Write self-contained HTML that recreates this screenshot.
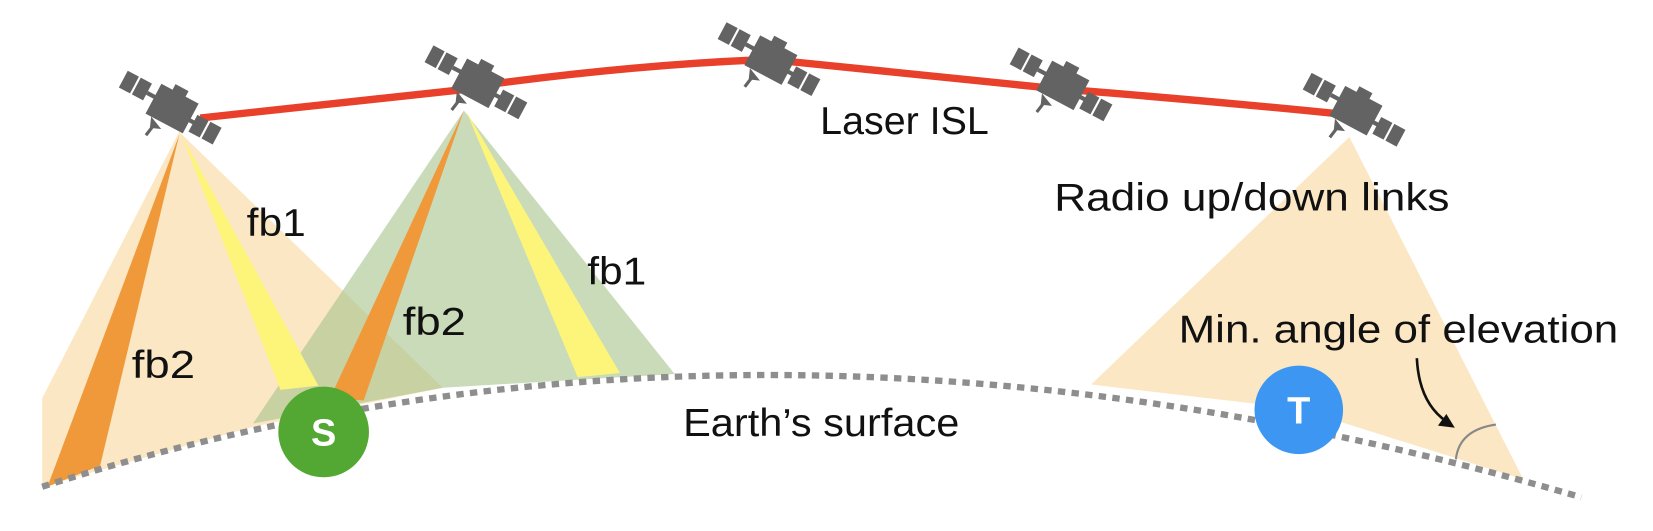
<!DOCTYPE html>
<html><head><meta charset="utf-8"><style>
html,body{margin:0;padding:0;background:#fff;}
svg{display:block;}
text{font-family:"Liberation Sans",sans-serif;fill:#111;}
</style></head><body>
<svg width="1653" height="531" viewBox="0 0 1568 504" preserveAspectRatio="none">
<defs>
<g id="sat">
<rect x="-22" y="-16" width="40" height="32" fill="#636363"/>
<rect x="-10" y="-22" width="14" height="8" fill="#636363"/>
<rect x="-56" y="-12" width="12" height="18" fill="#636363"/>
<rect x="-42" y="-12" width="12" height="18" fill="#636363"/>
<rect x="22" y="-6" width="12" height="18" fill="#636363"/>
<rect x="36" y="-6" width="12" height="18" fill="#636363"/>
<rect x="-30" y="-4" width="10" height="4" fill="#636363"/>
<rect x="17" y="0" width="8" height="4" fill="#636363"/>
<path d="M-16 16 L-2 22 L-12 26 Z" fill="#636363"/>
<path d="M-10 22 L-12 34" stroke="#636363" stroke-width="3"/>
</g>
</defs>
<polygon points="170,125 40,378 40,462 240,405 420,368" fill="#fbe7c3"/>
<polygon points="1280,130 1035,365 1232,388 1445,455" fill="#fbe7c3"/>
<polygon points="440,105 240,402 420,368 640,355" fill="#a7c38c" opacity="0.6"/>
<polygon points="170,128 45,462 95,442" fill="#f0993a"/>
<polygon points="172,128 266,370 302,366" fill="#fdf57a"/>
<polygon points="440,105 313,378 345,380" fill="#f0993a"/>
<polygon points="442,105 548,358 588,354" fill="#fdf57a"/>
<path d="M40,462 Q720,245 1500,472" fill="none" stroke="#8e8e8e" stroke-width="6" stroke-dasharray="7,6"/>
<path d="M190,112 Q320,98 440,85 M465,80 Q600,62 715,57 M745,58 Q880,72 1000,84 M1025,86 Q1150,96 1270,108" fill="none" stroke="#e8402a" stroke-width="7"/>
<use href="#sat" transform="translate(165,104) rotate(28)"/>
<use href="#sat" transform="translate(455,80) rotate(28)"/>
<use href="#sat" transform="translate(733,58) rotate(28)"/>
<use href="#sat" transform="translate(1010,82) rotate(28)"/>
<use href="#sat" transform="translate(1288,106) rotate(28)"/>
<circle cx="307" cy="410" r="43" fill="#52a832"/>
<text x="307" y="423" text-anchor="middle" font-size="36" font-weight="bold" style="fill:#fff">S</text>
<circle cx="1232" cy="389" r="42" fill="#3d97f2"/>
<text x="1232" y="402" text-anchor="middle" font-size="36" font-weight="bold" style="fill:#fff">T</text>
<path d="M1344,340 Q1346,382 1372,400" fill="none" stroke="#111" stroke-width="2.5"/>
<polygon points="1380,406 1364,404 1372,393" fill="#111"/>
<path d="M1381,436 Q1384,408 1419,403" fill="none" stroke="#888" stroke-width="2"/>
<text x="778" y="127" font-size="37" textLength="160" lengthAdjust="spacingAndGlyphs">Laser ISL</text>
<text x="1000" y="200" font-size="37" textLength="375" lengthAdjust="spacingAndGlyphs">Radio up/down links</text>
<text x="234" y="224" font-size="37" textLength="56" lengthAdjust="spacingAndGlyphs">fb1</text>
<text x="125" y="359" font-size="37" textLength="60" lengthAdjust="spacingAndGlyphs">fb2</text>
<text x="382" y="318" font-size="37" textLength="60" lengthAdjust="spacingAndGlyphs">fb2</text>
<text x="557" y="270" font-size="37" textLength="56" lengthAdjust="spacingAndGlyphs">fb1</text>
<text x="648" y="414" font-size="37" textLength="262" lengthAdjust="spacingAndGlyphs">Earth’s surface</text>
<text x="1118" y="325" font-size="37" textLength="417" lengthAdjust="spacingAndGlyphs">Min. angle of elevation</text>
</svg>
</body></html>
